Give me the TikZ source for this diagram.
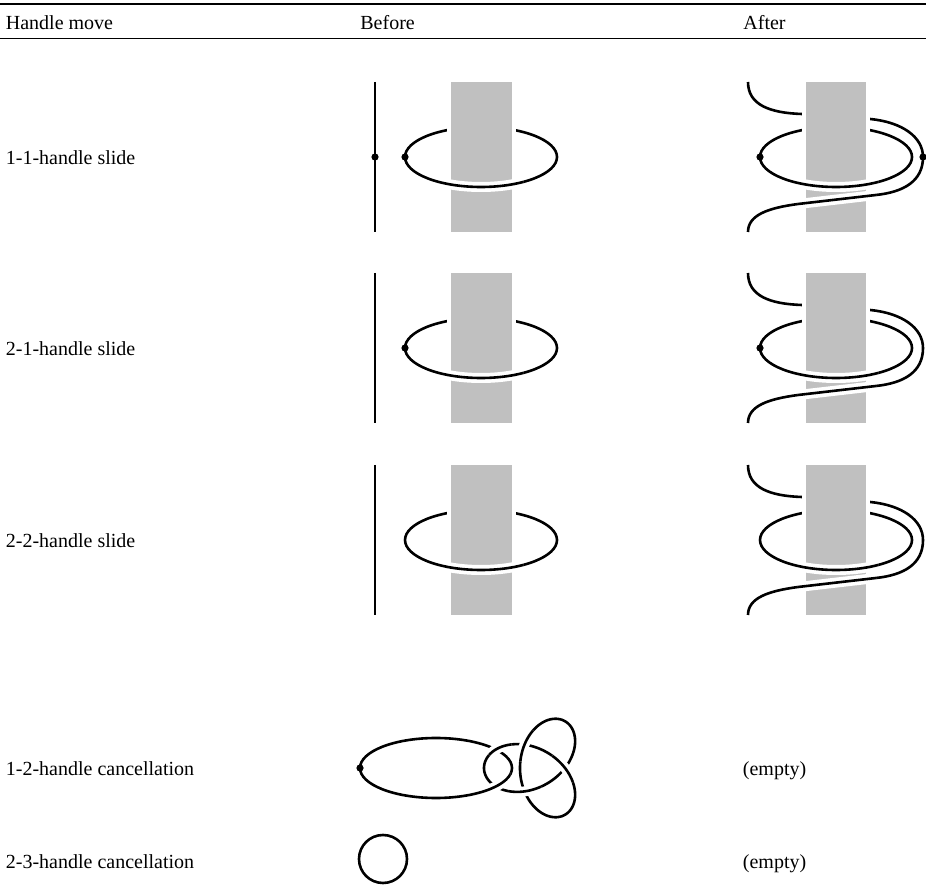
\documentclass[tikz,border=0pt]{standalone}
\usepackage{fontspec}
\setmainfont{Liberation Serif}
\definecolor{bandgray}{RGB}{192,192,192}
\tikzset{
  knot/.style={line width=1.3pt, line cap=butt},
  halo/.style={white, line width=5pt, line cap=butt},
  lab/.style={anchor=base west, inner sep=0pt, font=\fontsize{10pt}{12pt}\selectfont},
  rulestyle/.style={line width=0.65pt},
  dotstyle/.style={fill=black},
  beforepic/.pic={
    \draw[knot] (-106,-75) -- (-106,75);
    \draw[knot] (0,0) ellipse[x radius=38pt, y radius=15pt];
    \fill[white] (-34.5,-75) rectangle (34.5,75);
    \fill[bandgray] (-30.5,-75) rectangle (30.5,75);
    \begin{scope}
      \clip (-42,0) rectangle (42,40);
      \draw[halo] (0,0) ellipse[x radius=38pt, y radius=15pt];
      \draw[knot] (0,0) ellipse[x radius=38pt, y radius=15pt];
    \end{scope}
  },
  afterpic/.pic={
    \draw[knot] (0,0) ellipse[x radius=38pt, y radius=15pt];
    \draw[knot] (-88,-75) .. controls (-88,-52) and (-66,-44) .. (-34,-43)
      -- (34,-38) .. controls (66,-35) and (87,-20) .. (87,0)
      .. controls (87,24) and (68,35) .. (40,38) -- (-38,47)
      .. controls (-68,51) and (-88,58) .. (-88,75);
    \fill[white] (-34,-75) rectangle (34,75);
    \fill[bandgray] (-30,-75) rectangle (30,75);
    \begin{scope}
      \clip (-42,0) rectangle (42,36);
      \draw[halo] (0,0) ellipse[x radius=38pt, y radius=15pt];
      \draw[knot] (0,0) ellipse[x radius=38pt, y radius=15pt];
    \end{scope}
    \draw[halo] (40,38) -- (-38,47);
    \draw[knot] (40,38) -- (-38,47);
  }
}
\begin{document}
\begin{tikzpicture}[x=0.5pt, y=-0.5pt,
  declare function={
    trfx(\t)=538+18*(0.866*(sin(\t r)+2*sin(2*\t r))-0.5*(cos(\t r)-2*cos(2*\t r)));
    trfy(\t)=768-18*(0.5*(sin(\t r)+2*sin(2*\t r))+0.866*(cos(\t r)-2*cos(2*\t r)));
  }]
\useasboundingbox (0,0) rectangle (926,886);

% table rules
\draw[rulestyle] (0,4) -- (926,4);
\draw[rulestyle] (0,38.5) -- (926,38.5);

% header
\node[lab] (hmove) at (5.5,30) {Handle move};
\node[lab] (hbefore) at (360,30) {Before};
\node[lab] (hafter) at (743,30) {After};

% row labels
\node[lab] (r1) at (5.5,165) {1-1-handle slide};
\node[lab] (r2) at (5.5,356) {2-1-handle slide};
\node[lab] (r3) at (5.5,548) {2-2-handle slide};
\node[lab] (r4) at (5.5,776) {1-2-handle cancellation};
\node[lab] (r5) at (5.5,868) {2-3-handle cancellation};
\node[lab] (e4) at (742.5,776) {(empty)};
\node[lab] (e5) at (742.5,868) {(empty)};

% row 1
\pic at (481,157) {beforepic};
\pic at (836,157) {afterpic};
\fill[dotstyle] (375,157) circle[radius=1.8pt];
\fill[dotstyle] (405,157) circle[radius=1.8pt];
\fill[dotstyle] (760,157) circle[radius=1.8pt];
\fill[dotstyle] (923,157) circle[radius=1.8pt];

% row 2
\pic at (481,348) {beforepic};
\pic at (836,348) {afterpic};
\fill[dotstyle] (405,348) circle[radius=1.8pt];
\fill[dotstyle] (760,348) circle[radius=1.8pt];

% row 3
\pic at (481,540) {beforepic};
\pic at (836,540) {afterpic};

% row 4: dotted circle linked with a trefoil
\draw[knot] plot[variable=\t, domain=0:6.2832, samples=241] ({trfx(\t)},{trfy(\t)}) -- cycle;
\draw[knot] (436,768) ellipse[x radius=38pt, y radius=15pt];
\foreach \a/\b in {1.62/2.02, 3.72/4.12, 5.81/6.21, 4.62/4.98} {
  \draw[halo] plot[variable=\t, domain=\a:\b, samples=30] ({trfx(\t)},{trfy(\t)});
  \draw[knot] plot[variable=\t, domain=\a:\b, samples=30] ({trfx(\t)},{trfy(\t)});
}
\begin{scope}
  \clip (484,772) rectangle (510,800);
  \draw[halo] (436,768) ellipse[x radius=38pt, y radius=15pt];
  \draw[knot] (436,768) ellipse[x radius=38pt, y radius=15pt];
\end{scope}
\fill[dotstyle] (360,768) circle[radius=1.8pt];

% row 5
\draw[knot] (383,859) circle[radius=12pt];
\end{tikzpicture}
\end{document}
